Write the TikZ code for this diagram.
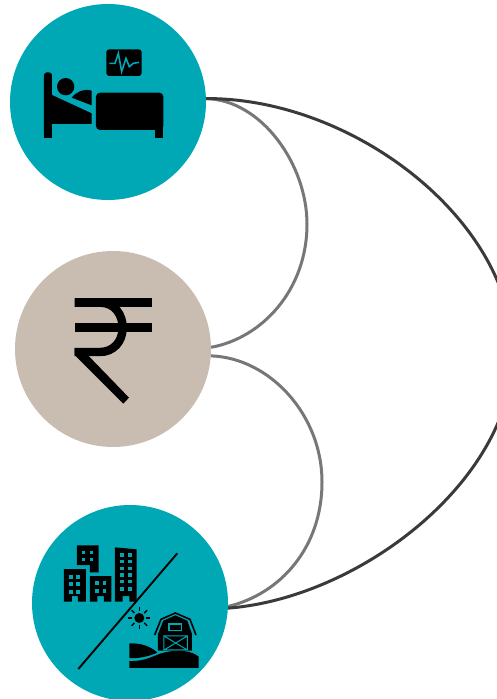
\documentclass[tikz,border=0pt]{standalone}
\usetikzlibrary{calc}
\definecolor{tealdisc}{HTML}{00A7B5}
\definecolor{sanddisc}{HTML}{C8BDB0}
\definecolor{thinarc}{HTML}{777777}
\definecolor{widearc}{HTML}{3A3A3A}
\tikzset{
    disc/.style={circle,inner sep=0,minimum size=196pt},
    smallarc/.style={draw=thinarc,line width=3pt},
    bigarc/.style={draw=widearc,line width=3pt},
    pane/.style={fill=tealdisc}
}
\begin{document}
\begin{tikzpicture}[x=1pt,y=-1pt]
    \useasboundingbox (0,0) rectangle (496,699);
    \node[disc,fill=tealdisc] (health) at (108,102) {};
    \node[disc,fill=sanddisc] (money) at (113,349) {};
    \node[disc,fill=tealdisc] (place) at (130,603) {};

    \draw[smallarc] (health.2) .. controls (262,100) and (307,165) .. (307,224)
        .. controls (307,290) and (262,338) .. (money.1);
    \draw[smallarc] (money.-4) .. controls (270,358) and (322,415) .. (322,482)
        .. controls (322,548) and (280,594) .. (place.-2);
    \draw[bigarc] (health.2) .. controls (355,98) and (513,222) .. (513,353)
        .. controls (513,480) and (360,598) .. (place.-3);

    % bed and monitor
    \begin{scope}[shift={(20,30)},x=.3333pt,y=-.3333pt]
        \fill[rounded corners=3pt] (259,58) rectangle (365,138);
        \draw[tealdisc,line width=1.6pt] (268,100) -- (285,100) -- (295,70) -- (305,125)
            -- (318,85) -- (328,110) -- (340,100) -- (357,97);
        \fill[rounded corners=3pt] (72,323) -- (72,127) -- (96,127) -- (96,323) -- cycle;
        \fill (72,282) rectangle (96,323);
        \fill (72,323) rectangle (96,140);
        \fill (96,195) -- (215,250) -- (215,282) -- (96,282) -- cycle;
        \fill (137,170) circle (26);
        \fill (155,203) .. controls (170,185) and (190,175) .. (215,182) -- (215,226) -- cycle;
        \fill[rounded corners=4pt] (228,300) -- (228,188) -- (430,188) -- (430,300) -- cycle;
        \fill (405,285) rectangle (430,323);
    \end{scope}

    % rupee sign
    \begin{scope}[shift={(60,285)},x=.3333pt,y=-.3333pt]
        \fill (44,40) rectangle (275,66);
        \fill (44,115) rectangle (275,141);
        \draw[line width=8.4pt] (44,53) -- (120,53) .. controls (165,53) and (188,90) .. (188,128)
            .. controls (188,170) and (160,201) .. (120,201) -- (44,201);
        \fill (44,190) -- (85,212) -- (207,338) -- (190,356) -- (44,210) -- cycle;
    \end{scope}

    % town and farm
    \begin{scope}[shift={(50,530)},x=.3333pt,y=-.3333pt]
        \fill (42,117) -- (108,117) -- (108,215) -- (84,215) -- (84,198) -- (66,198) -- (66,215) -- (42,215) -- cycle;
        \fill (81,46) -- (146,46) -- (146,127) -- (120,127) -- (120,105) -- (81,105) -- cycle;
        \fill (120,138) -- (184,138) -- (184,215) -- (162,215) -- (162,198) -- (142,198) -- (142,215) -- (120,215) -- cycle;
        \fill (195,52) -- (260,58) -- (260,215) -- (238,215) -- (238,198) -- (218,198) -- (218,215) -- (195,215) -- cycle;
        \foreach \x in {58,78} \foreach \y in {135,157,180}
            \fill[pane] (\x,\y) rectangle ++(11,11);
        \foreach \x in {97,120} \foreach \y in {62,83}
            \fill[pane] (\x,\y) rectangle ++(9,10);
        \foreach \x in {136,158} \foreach \y in {154,178}
            \fill[pane] (\x,\y) rectangle ++(10,10);
        \foreach \x in {211,234} \foreach \y in {70,90,110,130,150,172}
            \fill[pane] (\x,\y) rectangle ++(11,10);
        \draw[line width=1.9pt] (85,417) -- (382,70);
        \fill (268,264) circle (15);
        \foreach \a in {0,45,...,315}
            \draw[line width=1.4pt] ($(268,264)+(\a:21)$) -- ($(268,264)+(\a:33)$);
        % barn
        \draw[line width=1.6pt] (314,315) -- (333,268) -- (376,249) -- (420,268) -- (438,315);
        \fill (324,362) -- (324,312) -- (340,272) -- (376,256) -- (412,272) -- (426,312) -- (426,362) -- cycle;
        \fill[pane] (355,280) rectangle (396,304);
        \fill[black] (359,284) rectangle (392,300);
        \draw[tealdisc,line width=1pt] (342,318) rectangle (412,360)
            (342,318) -- (412,360) (342,360) -- (412,318);
        \fill (238,340) .. controls (270,338) and (305,350) .. (322,368)
            .. controls (295,380) and (265,386) .. (238,384) -- cycle;
        \fill (238,393) .. controls (290,395) and (310,375) .. (345,367)
            .. controls (385,358) and (425,362) .. (446,380) -- (446,414) -- (238,414) -- cycle;
    \end{scope}
\end{tikzpicture}
\end{document}
